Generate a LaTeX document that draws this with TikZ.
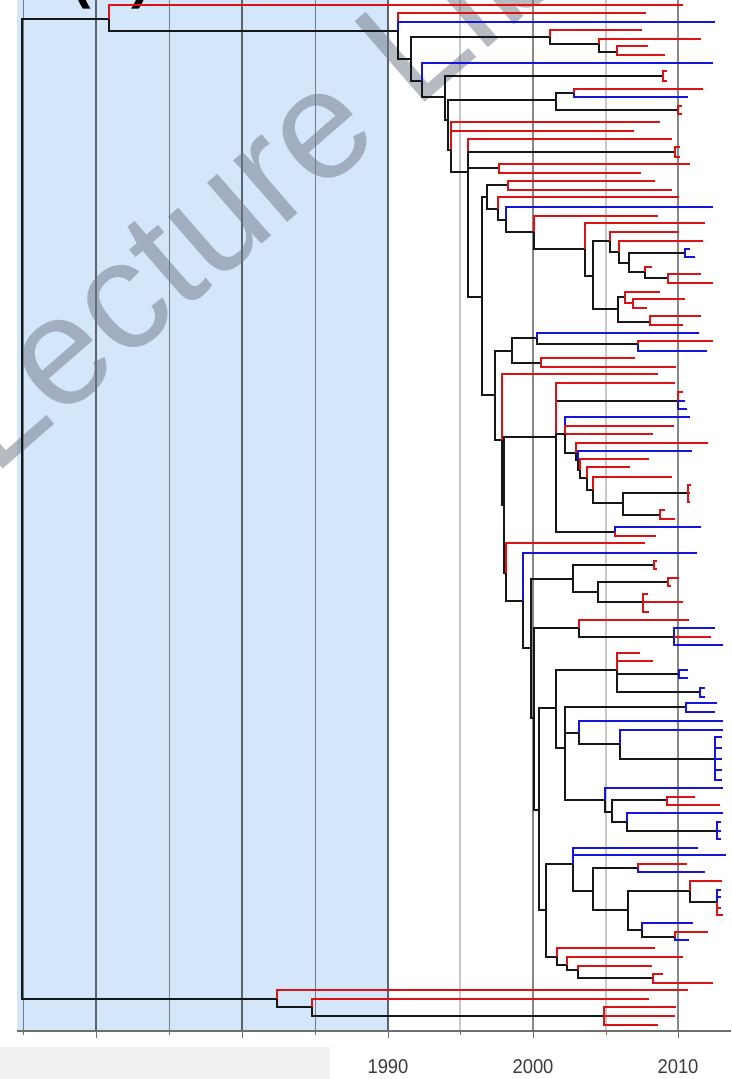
\documentclass[tikz,border=0pt]{standalone}
\usepackage{fontspec}
\setmainfont{Liberation Sans}
\definecolor{bgblue}{RGB}{212,230,250}
\definecolor{tred}{RGB}{222,18,18}
\definecolor{tblue}{RGB}{20,20,222}
\definecolor{tblack}{RGB}{22,22,22}
\definecolor{gridin}{RGB}{90,100,112}
\definecolor{gridinl}{RGB}{115,125,138}
\definecolor{gridout}{RGB}{135,135,135}
\definecolor{gridoutl}{RGB}{200,200,200}
\definecolor{axisgrey}{RGB}{110,110,110}
\definecolor{labgrey}{RGB}{60,60,60}
\definecolor{boxgrey}{RGB}{240,240,240}
\definecolor{wmark}{RGB}{110,120,135}
\newcounter{lfc}
\newcommand\nd[3]{\coordinate (#1) at (#2,#3);}
\newcommand\br[3]{\draw[#1] (#2) |- (#3);}
\newcommand\lf[4]{\stepcounter{lfc}\draw[#1] (#2) |- (#3,#4) coordinate (leaf\arabic{lfc});}
\tikzset{
  kbr/.style={draw=tblack,line width=2.8pt},
  rbr/.style={draw=tred,line width=2.5pt},
  bbr/.style={draw=tblue,line width=2.5pt},
  gmaj/.style={draw=gridin,line width=1.1pt},
  gmin/.style={draw=gridinl,line width=1pt},
  omaj/.style={draw=gridout,line width=1.1pt},
  omin/.style={draw=gridoutl,line width=1.1pt},
  yearlab/.style={text=labgrey,font=\fontsize{20}{20}\selectfont,inner sep=0pt,xscale=0.92}
}
\begin{document}
\begin{tikzpicture}[x=1pt,y=-1pt]
\useasboundingbox (0,0) rectangle (731,1079);
\fill[white] (0,0) rectangle (731,1079);
\fill[bgblue] (17,0) rectangle (388,1031);
% grid
\foreach \g in {96,242,388} \draw[gmaj] (\g,0) -- (\g,1031);
\foreach \g in {23,169,315} \draw[gmin] (\g,0) -- (\g,1031);
\foreach \g in {533,678} \draw[omaj] (\g,0) -- (\g,1031);
\foreach \g in {460,606} \draw[omin] (\g,0) -- (\g,1031);
% axis
\draw[axisgrey,line width=1.8pt] (17,1031) -- (731,1031);
\foreach \g in {96,242,388,533,678} \draw[axisgrey,line width=1pt] (\g,1031) -- (\g,1038);
\foreach \g in {23,169,315,460,606} \draw[axisgrey,line width=1pt] (\g,1031) -- (\g,1035);
\fill[boxgrey] (0,1047) rectangle (330,1079);
\node[yearlab] (y1990) at (388,1067) {1990};
\node[yearlab] (y2000) at (533,1067) {2000};
\node[yearlab] (y2010) at (678,1067) {2010};
% cut label and watermark
\begin{scope}
\clip (0,0) rectangle (731,1079);
\node[anchor=base,inner sep=0pt,font=\bfseries\fontsize{56}{56}\selectfont] (plabel) at (111,-3) {(A)};
\node[anchor=base west,inner sep=0pt,rotate=41,text=wmark,text opacity=0.5,font=\fontsize{155}{155}\selectfont] (wm) at (-7,478) {Lecture Library};
\end{scope}
% ---------------- tree nodes
\nd{R0}{22}{500}
\nd{A}{109}{19} \nd{C}{398}{31} \nd{D}{411}{59} \nd{E}{550}{37} \nd{G}{599}{44} \nd{H}{617}{52}
\nd{F}{422}{81} \nd{I}{445}{97} \nd{J1}{663}{76} \nd{I2}{448}{120} \nd{N556}{556}{100}
\nd{N574}{574}{93} \nd{N678}{678}{110} \nd{I3}{451}{150} \nd{I5}{468}{172} \nd{N675}{675}{152}
\nd{N499}{499}{168} \nd{M}{482}{297} \nd{M1}{487}{197} \nd{N508}{508}{185} \nd{N498}{498}{209}
\nd{N506}{506}{220} \nd{N534}{534}{232} \nd{N585}{585}{249} \nd{N593}{593}{276} \nd{N610}{610}{241}
\nd{N619}{619}{252} \nd{N629}{629}{263} \nd{N685}{685}{253} \nd{N645}{645}{272} \nd{N668}{668}{278}
\nd{N618}{618}{309} \nd{N625}{625}{297} \nd{N633}{633}{303} \nd{N650}{650}{322}
\nd{M2}{495}{395} \nd{N512}{512}{351} \nd{N537}{537}{338} \nd{N638}{638}{344} \nd{N541}{541}{363}
\nd{P}{502}{440} \nd{P2}{504}{505} \nd{Q}{556}{437} \nd{N678b}{678}{401} \nd{N565}{565}{434}
\nd{N575}{576}{453} \nd{L2}{578}{460} \nd{L3}{580}{470} \nd{L4}{587}{478} \nd{L5}{593}{490}
\nd{N623}{623}{503} \nd{N688}{688}{493} \nd{N660}{660}{515} \nd{N615}{615}{532}
\nd{P3}{506}{573} \nd{P4}{523}{601} \nd{P5}{531}{648} \nd{N573}{573}{579} \nd{N653b}{654}{565}
\nd{N598}{598}{592} \nd{N668b}{668}{582} \nd{N643}{643}{602} \nd{P6}{534}{718} \nd{N579}{579}{628}
\nd{N674}{674}{637} \nd{P7}{539}{810} \nd{P8}{556}{708} \nd{N617}{617}{670} \nd{N679}{679}{674}
\nd{N700}{700}{692} \nd{P10}{565}{748} \nd{N686}{686}{707} \nd{N579b}{579}{733} \nd{N620}{620}{744}
\nd{N715}{715}{759} \nd{N605}{605}{800} \nd{N612}{612}{812} \nd{N667}{667}{800} \nd{N627}{627}{822}
\nd{N717}{717}{831} \nd{P9}{546}{910} \nd{N573c}{573}{864} \nd{N593c}{593}{891} \nd{N638b}{638}{868}
\nd{N628}{628}{910} \nd{N690}{690}{891} \nd{N717b}{717}{902} \nd{N642}{642}{930} \nd{N675b}{675}{937}
\nd{P13}{557}{957} \nd{P14}{567}{965} \nd{P15}{578}{970} \nd{N653}{653}{978}
\nd{Z}{277}{999} \nd{Z2}{312}{1007} \nd{Z3}{604}{1016}
% ---------------- branches
\br{kbr}{R0}{A} \br{kbr}{R0}{Z}
\lf{rbr}{A}{683}{5} \br{kbr}{A}{C}
\lf{rbr}{C}{646}{13} \lf{bbr}{C}{715}{22} \br{kbr}{C}{D}
\br{kbr}{D}{E} \br{kbr}{D}{F}
\lf{rbr}{E}{642}{30} \br{kbr}{E}{G}
\lf{rbr}{G}{701}{39} \br{kbr}{G}{H}
\lf{rbr}{H}{648}{46} \lf{rbr}{H}{665}{55}
\lf{bbr}{F}{713}{63} \br{kbr}{F}{I}
\br{kbr}{I}{J1} \br{kbr}{I}{I2}
\lf{rbr}{J1}{667}{71} \lf{rbr}{J1}{667}{81}
\br{kbr}{I2}{N556} \br{kbr}{I2}{I3}
\br{kbr}{N556}{N574} \br{kbr}{N556}{N678}
\lf{rbr}{N574}{703}{89} \lf{bbr}{N574}{688}{97}
\lf{rbr}{N678}{682}{106} \lf{rbr}{N678}{682}{114}
\lf{rbr}{I3}{660}{122} \lf{rbr}{I3}{634}{131} \br{kbr}{I3}{I5}
\lf{rbr}{I5}{672}{139} \br{kbr}{I5}{N675} \br{kbr}{I5}{N499} \br{kbr}{I5}{M}
\lf{rbr}{N675}{680}{147} \lf{rbr}{N675}{680}{157}
\lf{rbr}{N499}{690}{164} \lf{rbr}{N499}{641}{173}
\br{kbr}{M}{M1} \br{kbr}{M}{M2}
\br{kbr}{M1}{N508} \br{kbr}{M1}{N498}
\lf{rbr}{N508}{655}{181} \lf{rbr}{N508}{672}{190}
\lf{rbr}{N498}{679}{197} \br{kbr}{N498}{N506}
\lf{bbr}{N506}{713}{207} \br{kbr}{N506}{N534}
\lf{rbr}{N534}{658}{216} \br{kbr}{N534}{N585}
\lf{rbr}{N585}{705}{223} \br{kbr}{N585}{N593}
\br{kbr}{N593}{N610} \br{kbr}{N593}{N618}
\lf{rbr}{N610}{679}{232} \br{kbr}{N610}{N619}
\lf{rbr}{N619}{703}{241} \br{kbr}{N619}{N629}
\br{kbr}{N629}{N685} \br{kbr}{N629}{N645}
\lf{bbr}{N685}{690}{249} \lf{bbr}{N685}{695}{257}
\lf{rbr}{N645}{652}{267} \br{kbr}{N645}{N668}
\lf{rbr}{N668}{701}{274} \lf{rbr}{N668}{713}{283}
\br{kbr}{N618}{N625} \br{kbr}{N618}{N650}
\lf{rbr}{N625}{660}{292} \br{rbr}{N625}{N633}
\lf{rbr}{N633}{685}{299} \lf{rbr}{N633}{647}{308}
\lf{rbr}{N650}{701}{316} \lf{rbr}{N650}{683}{325}
\br{kbr}{M2}{N512} \br{kbr}{M2}{P}
\br{kbr}{N512}{N537} \br{kbr}{N512}{N541}
\lf{bbr}{N537}{699}{333} \br{kbr}{N537}{N638}
\lf{rbr}{N638}{713}{341} \lf{bbr}{N638}{707}{351}
\lf{rbr}{N541}{635}{358} \lf{rbr}{N541}{676}{367}
\lf{rbr}{P}{658}{374} \br{kbr}{P}{P2}
\br{kbr}{P2}{Q} \br{kbr}{P2}{P3}
\br{kbr}{Q}{N678b} \lf{rbr}{Q}{675}{383} \br{kbr}{Q}{N565} \br{kbr}{Q}{N615}
\lf{rbr}{N678b}{683}{392} \lf{bbr}{N678b}{685}{401} \lf{bbr}{N678b}{687}{409}
\lf{bbr}{N565}{690}{417} \lf{rbr}{N565}{674}{426} \lf{rbr}{N565}{653}{434} \br{kbr}{N565}{N575}
\lf{rbr}{N575}{708}{443} \br{kbr}{N575}{L2}
\lf{bbr}{L2}{692}{451} \br{kbr}{L2}{L3}
\lf{rbr}{L3}{649}{459} \br{kbr}{L3}{L4}
\lf{rbr}{L4}{630}{467} \br{kbr}{L4}{L5}
\lf{rbr}{L5}{672}{477} \br{kbr}{L5}{N623}
\br{kbr}{N623}{N688} \br{kbr}{N623}{N660}
\lf{rbr}{N688}{691}{485} \lf{rbr}{N688}{690}{493} \lf{rbr}{N688}{690}{502}
\lf{rbr}{N660}{665}{510} \lf{rbr}{N660}{675}{519}
\lf{bbr}{N615}{701}{527} \lf{rbr}{N615}{656}{536}
\lf{rbr}{P3}{645}{543} \br{kbr}{P3}{P4}
\lf{bbr}{P4}{697}{553} \br{kbr}{P4}{P5}
\br{kbr}{P5}{N573} \br{kbr}{P5}{P6}
\br{kbr}{N573}{N653b} \br{kbr}{N573}{N598}
\lf{rbr}{N653b}{657}{561} \lf{rbr}{N653b}{657}{569}
\br{kbr}{N598}{N668b} \br{kbr}{N598}{N643}
\lf{rbr}{N668b}{679}{578} \lf{rbr}{N668b}{671}{586}
\lf{rbr}{N643}{648}{594} \lf{rbr}{N643}{683}{602} \lf{rbr}{N643}{649}{612}
\br{kbr}{P6}{N579} \br{kbr}{P6}{P7}
\lf{rbr}{N579}{689}{620} \br{kbr}{N579}{N674}
\lf{bbr}{N674}{715}{628} \lf{bbr}{N674}{723}{645} \lf{rbr}{N674}{711}{637}
\br{kbr}{P7}{P8} \br{kbr}{P7}{P9}
\br{kbr}{P8}{N617} \br{kbr}{P8}{P10}
\lf{rbr}{N617}{640}{653} \lf{rbr}{N617}{653}{661} \br{kbr}{N617}{N700} \br{kbr}{N617}{N679}
\lf{bbr}{N679}{688}{670} \lf{bbr}{N679}{688}{678}
\lf{bbr}{N700}{705}{688} \lf{bbr}{N700}{705}{697}
\br{kbr}{P10}{N686} \br{kbr}{P10}{N579b} \br{kbr}{P10}{N605}
\lf{bbr}{N686}{717}{703} \lf{bbr}{N686}{715}{712}
\lf{bbr}{N579b}{723}{721} \br{kbr}{N579b}{N620}
\lf{bbr}{N620}{723}{730} \br{kbr}{N620}{N715}
\lf{bbr}{N715}{722}{737} \lf{bbr}{N715}{722}{748} \lf{bbr}{N715}{722}{759} \lf{bbr}{N715}{722}{770} \lf{bbr}{N715}{722}{780}
\lf{bbr}{N605}{723}{788} \br{kbr}{N605}{N612}
\br{kbr}{N612}{N667} \br{kbr}{N612}{N627}
\lf{rbr}{N667}{695}{797} \lf{rbr}{N667}{720}{805}
\lf{bbr}{N627}{723}{813} \br{kbr}{N627}{N717}
\lf{bbr}{N717}{721}{822} \lf{bbr}{N717}{721}{831} \lf{bbr}{N717}{721}{839}
\br{kbr}{P9}{N573c} \br{kbr}{P9}{P13}
\lf{bbr}{N573c}{698}{848} \lf{bbr}{N573c}{726}{855} \br{kbr}{N573c}{N593c}
\br{kbr}{N593c}{N638b} \br{kbr}{N593c}{N628}
\lf{rbr}{N638b}{687}{864} \lf{bbr}{N638b}{705}{872}
\br{kbr}{N628}{N690} \br{kbr}{N628}{N642}
\lf{rbr}{N690}{722}{881} \br{kbr}{N690}{N717b}
\lf{bbr}{N717b}{721}{890} \lf{bbr}{N717b}{721}{897} \lf{rbr}{N717b}{723}{915} \lf{rbr}{N717b}{721}{908}
\lf{bbr}{N642}{693}{923} \br{kbr}{N642}{N675b}
\lf{rbr}{N675b}{708}{932} \lf{bbr}{N675b}{689}{940}
\lf{rbr}{P13}{655}{948} \br{kbr}{P13}{P14}
\lf{rbr}{P14}{683}{957} \br{kbr}{P14}{P15}
\lf{rbr}{P15}{652}{966} \br{kbr}{P15}{N653}
\lf{rbr}{N653}{663}{974} \lf{rbr}{N653}{713}{983}
\lf{rbr}{Z}{688}{990} \br{kbr}{Z}{Z2}
\lf{rbr}{Z2}{649}{999} \br{kbr}{Z2}{Z3}
\lf{rbr}{Z3}{676}{1007} \lf{rbr}{Z3}{675}{1016} \lf{rbr}{Z3}{658}{1025}
\end{tikzpicture}
\end{document}
